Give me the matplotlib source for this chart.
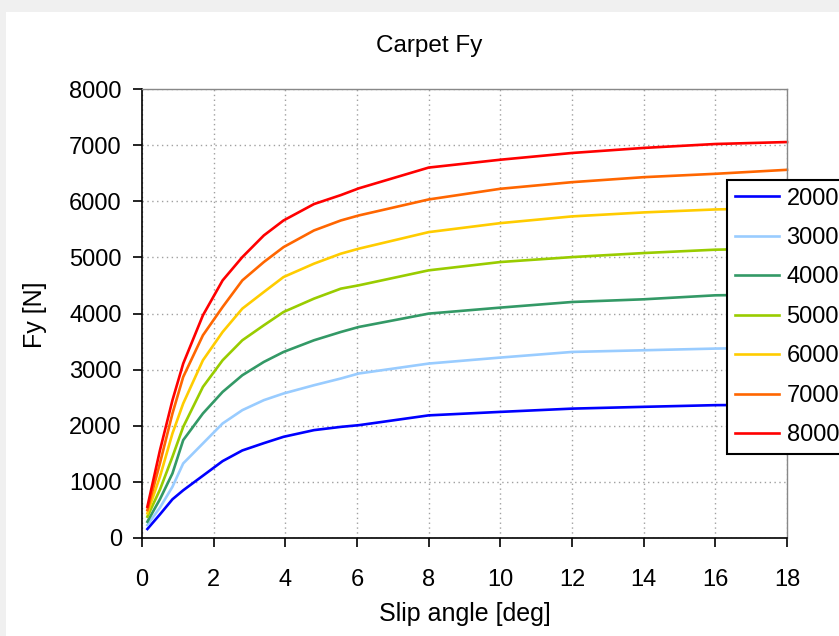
import matplotlib
matplotlib.use("Agg")
import matplotlib.pyplot as plt
from matplotlib.patches import Rectangle

plt.rcParams['font.family'] = ['Liberation Sans', 'DejaVu Sans']

# Data
slip_angle = [0.15, 0.5, 0.85, 1.15, 1.7, 2.25, 2.8, 3.4, 3.95, 4.8, 5.55, 6.05, 8, 10, 12, 14, 16, 18]
loads = ["2000", "3000", "4000", "5000", "6000", "7000", "8000"]
fy_2000 = [160, 420, 690, 850, 1110, 1370, 1560, 1690, 1803, 1922, 1980, 2010, 2185, 2247, 2305, 2337, 2367, 2375]
fy_3000 = [231, 540, 913, 1329, 1685, 2041, 2278, 2456, 2575, 2722, 2842, 2931, 3108, 3215, 3315, 3345, 3375, 3390]
fy_4000 = [290, 690, 1151, 1744, 2219, 2603, 2900, 3137, 3315, 3523, 3671, 3760, 3998, 4105, 4205, 4253, 4324, 4340]
fy_5000 = [380, 860, 1447, 1980, 2692, 3167, 3523, 3790, 4027, 4265, 4443, 4502, 4769, 4917, 5005, 5077, 5137, 5160]
fy_6000 = [440, 1090, 1863, 2397, 3167, 3671, 4087, 4383, 4650, 4888, 5066, 5155, 5450, 5610, 5730, 5801, 5854, 5880]
fy_7000 = [498, 1330, 2219, 2870, 3612, 4116, 4590, 4917, 5183, 5480, 5658, 5747, 6032, 6222, 6340, 6429, 6489, 6560]
fy_8000 = [557, 1560, 2455, 3108, 3968, 4590, 5005, 5391, 5658, 5950, 6110, 6230, 6600, 6740, 6860, 6950, 7020, 7055]
x_ticks = [0, 2, 4, 6, 8, 10, 12, 14, 16, 18]
y_ticks = [0, 1000, 2000, 3000, 4000, 5000, 6000, 7000, 8000]

series = [fy_2000, fy_3000, fy_4000, fy_5000, fy_6000, fy_7000, fy_8000]
colors = ['#0000ff', '#99ccff', '#339966', '#99cc00', '#ffcc00', '#ff6600', '#ff0000']

W, H = 839, 636
fig = plt.figure(figsize=(W / 100, H / 100), dpi=100, facecolor='#f0f0f0')
fig.patches.append(Rectangle((6 / W, 0), 1, 1 - 12 / H, transform=fig.transFigure,
                             facecolor='white', edgecolor='none', zorder=-1))

ax = fig.add_axes([142 / W, (H - 538) / H, (787 - 142) / W, (538 - 89) / H])
ax.set_facecolor('white')

for vals, c, lab in zip(series, colors, loads):
    ax.plot(slip_angle, vals, color=c, lw=1.9, label=lab, clip_on=False,
            solid_joinstyle='round')

ax.set_xlim(0, 18)
ax.set_ylim(0, 8000)
ax.set_xticks(x_ticks)
ax.set_yticks(y_ticks)
ax.grid(True, color='#a0a0a0', linestyle=(0, (1, 2.5)), linewidth=1.0)
ax.set_axisbelow(True)

for s in ['top', 'right']:
    ax.spines[s].set_color('#888888')
    ax.spines[s].set_linewidth(1.0)
for s in ['left', 'bottom']:
    ax.spines[s].set_color('black')
    ax.spines[s].set_linewidth(1.2)

ax.tick_params(axis='x', direction='out', length=6.5, width=1.2, pad=16, labelsize=17)
ax.tick_params(axis='y', direction='out', length=6.5, width=1.2, pad=8, labelsize=17)

fig.text(429 / W, 1 - 46 / H, "Carpet Fy", ha='center', va='center', fontsize=17.5)
fig.text(465 / W, 1 - 614 / H, "Slip angle [deg]", ha='center', va='center', fontsize=18)
fig.text(35 / W, 1 - 315 / H, "Fy [N]", ha='center', va='center', fontsize=18, rotation=90)

leg = fig.legend(loc='upper left', bbox_to_anchor=(727 / W, 1 - 180 / H),
                 bbox_transform=fig.transFigure, fontsize=17, frameon=True,
                 fancybox=False, shadow=False, framealpha=1, edgecolor='black',
                 labelspacing=0.74, handlelength=1.9, handletextpad=0.3,
                 borderpad=0.32, borderaxespad=0)
leg.get_frame().set_linewidth(1.5)

fig.savefig("out.png", dpi=100, facecolor=fig.get_facecolor())
